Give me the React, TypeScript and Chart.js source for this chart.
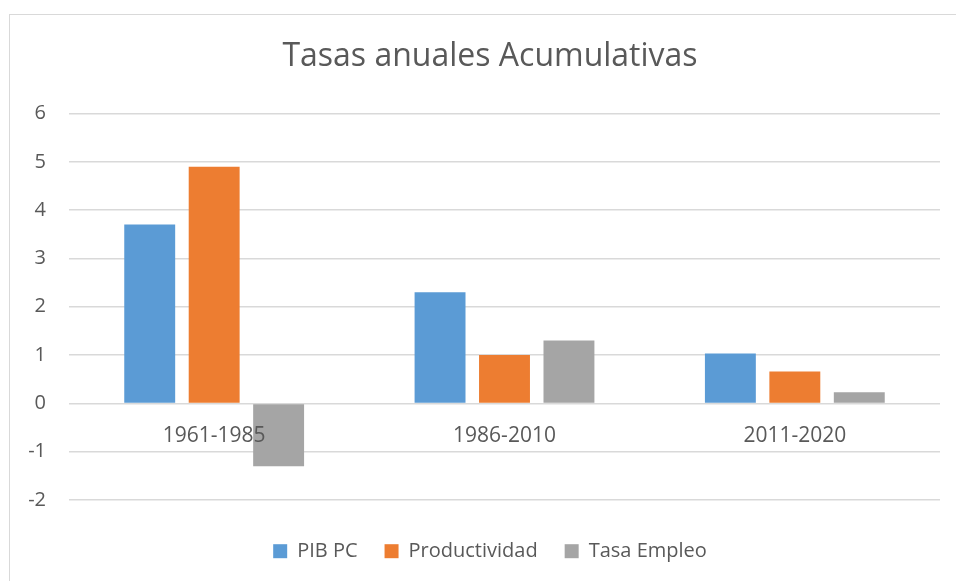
import React, { useEffect, useRef } from "react";
import { Chart, registerables } from "chart.js";

Chart.register(...registerables);

const categories = ["1961-1985", "1986-2010", "2011-2020"];
const pibPC = [3.7, 2.3, 1.03];
const productividad = [4.9, 1.0, 0.66];
const tasaEmpleo = [-1.3, 1.3, 0.23];
const yTicks = [-2, -1, 0, 1, 2, 3, 4, 5, 6];
const titleText = "Tasas anuales Acumulativas";

const FONT = "'Open Sans', sans-serif";
const TEXT = "#595959";
const GRID = "#d9d9d9";
const TITLE_SIZE = 32;
const LEFT_PAD = 40;

const legendFitPlugin = {
  id: "legendFit",
  beforeLayout(chart: any) {
    const legend = chart.legend;
    if (legend && !legend.__patched) {
      const orig = legend.fit.bind(legend);
      legend.fit = function () {
        orig();
        this.height = 81;
      };
      legend.__patched = true;
    }
  },
};

export default function App() {
  const ref = useRef<HTMLCanvasElement | null>(null);

  useEffect(() => {
    if (!ref.current) return;
    const chart = new Chart(ref.current, {
      type: "bar",
      data: {
        labels: categories,
        datasets: [
          { label: "PIB PC", data: pibPC, backgroundColor: "#5B9BD5" },
          { label: "Productividad", data: productividad, backgroundColor: "#ED7D31" },
          { label: "Tasa Empleo", data: tasaEmpleo, backgroundColor: "#A5A5A5" },
        ],
      },
      plugins: [legendFitPlugin],
      options: {
        animation: false,
        responsive: false,
        maintainAspectRatio: false,
        layout: { padding: { left: LEFT_PAD, right: 16, top: 57 - TITLE_SIZE * 0.6, bottom: 0 } },
        datasets: {
          bar: { categoryPercentage: 0.666, barPercentage: 0.79 },
        },
        plugins: {
          title: {
            display: true,
            text: titleText,
            color: TEXT,
            font: { family: FONT, size: TITLE_SIZE, weight: "normal" },
            padding: { top: 0, bottom: 113.5 - 57 - TITLE_SIZE * 0.6 },
          },
          legend: {
            position: "bottom",
            title: { display: true, text: " ", font: { size: 1 }, padding: { top: 0, bottom: 13 } },
            labels: {
              color: TEXT,
              font: { family: FONT, size: 20 },
              boxWidth: 14,
              boxHeight: 14,
              padding: 27,
            },
          },
          tooltip: { enabled: false },
        },
        scales: {
          x: {
            position: { y: 0 } as any,
            grid: { display: false, drawTicks: false },
            border: { display: false },
            ticks: {
              z: 1,
              color: TEXT,
              font: { family: FONT, size: 21 },
              padding: 20,
            },
          },
          y: {
            min: -2,
            max: 6,
            afterBuildTicks: (scale: any) => {
              scale.ticks = yTicks.map((v) => ({ value: v }));
            },
            afterFit: (scale: any) => {
              scale.width = 69 - LEFT_PAD;
              scale._computeLabelArea = () => undefined;
            },
            grid: { color: GRID, lineWidth: 1.5, drawTicks: false },
            border: { display: false },
            ticks: {
              color: TEXT,
              font: { family: FONT, size: 20 },
              padding: 23,
            },
          },
        },
      },
    });
    return () => chart.destroy();
  }, []);

  return (
    <div style={{ position: "fixed", left: 0, top: 0, width: 956, height: 581, background: "#fff" }}>
      <div
        style={{
          position: "absolute",
          left: 9,
          top: 14,
          width: 960,
          height: 600,
          borderTop: "1px solid #d9d9d9",
          borderLeft: "1px solid #d9d9d9",
        }}
      />
      <canvas ref={ref} width={956} height={581} style={{ position: "absolute", left: 0, top: 0 }} />
    </div>
  );
}
